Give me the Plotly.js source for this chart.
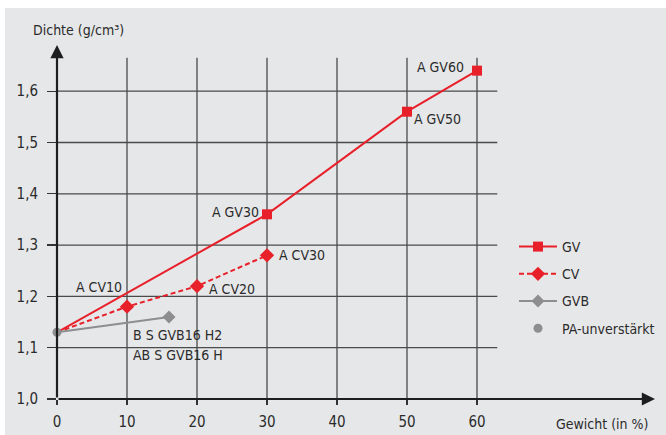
<!DOCTYPE html>
<html>
<head>
<meta charset="utf-8">
<script src="https://cdn.plot.ly/plotly-3.0.1.min.js"></script>
<style>html,body{margin:0;padding:0;background:#fff}#chart{width:666px;height:435px}</style>
</head>
<body>
<div id="chart"></div>
<script>
// ---- data ----
const gvX = [0, 30, 50, 60];
const gvY = [1.13, 1.36, 1.56, 1.64];
const cvX = [0, 10, 20, 30];
const cvY = [1.13, 1.18, 1.22, 1.28];
const gvbX = [0, 16];
const gvbY = [1.13, 1.16];
const paX = [0];
const paY = [1.13];
const seriesNames = ['GV', 'CV', 'GVB', 'PA-unverstärkt'];
const xTicks = [0, 10, 20, 30, 40, 50, 60];
const yTicks = [1.0, 1.1, 1.2, 1.3, 1.4, 1.5, 1.6];
const yTickText = ['1,0', '1,1', '1,2', '1,3', '1,4', '1,5', '1,6'];
const yTitle = 'Dichte (g/cm³)';
const xTitle = 'Gewicht (in %)';
// point labels: [text, x, y]
const labels = [
  ['A GV60', 60, 1.64],
  ['A GV50', 50, 1.56],
  ['A GV30', 30, 1.36],
  ['A CV30', 30, 1.28],
  ['A CV20', 20, 1.22],
  ['A CV10', 10, 1.18],
  ['B S GVB16 H2', 10, 1.16],
  ['AB S GVB16 H', 10, 1.16]
];

// ---- styling ----
const FONT = '"Liberation Sans Narrow", "DejaVu Sans Condensed", "Roboto", sans-serif';
const FS = 14;
const RED = '#e8202a';
const GRAY = '#8e8e90';
const TXT = '#2b2b2b';
const BG = '#e6e7e9';
const labelPos = [
  {xanchor: 'right', xshift: -11, yshift: 4},
  {xanchor: 'left', xshift: 5, yshift: -7},
  {xanchor: 'right', xshift: -6, yshift: 2},
  {xanchor: 'left', xshift: 10, yshift: 0},
  {xanchor: 'left', xshift: 10, yshift: -3},
  {xanchor: 'right', xshift: -3, yshift: 20},
  {xanchor: 'left', xshift: 4, yshift: -18},
  {xanchor: 'left', xshift: 4, yshift: -38}
];
// hide markers at the common origin (only the PA dot is shown there)
const sz = (xs, s) => xs.map(v => (v === 0 ? 0 : s));

const xMax = 85.43, yMax = 1.69;
const gridXEnd = 62.9, gridYEnd = 1.665;

const styles = [
  {line: {color: RED, width: 2}, sym: 'square', size: 10, color: RED, mode: 'lines+markers'},
  {line: {color: RED, width: 2, dash: '5px,3px'}, sym: 'diamond', size: 11, color: RED, mode: 'lines+markers'},
  {line: {color: GRAY, width: 2}, sym: 'diamond', size: 10, color: GRAY, mode: 'lines+markers'},
  {line: {color: GRAY, width: 2}, sym: 'circle', size: 9, color: GRAY, mode: 'markers'}
];
const series = [[gvX, gvY], [cvX, cvY], [gvbX, gvbY], [paX, paY]];

const traces = [];
series.forEach((s, i) => {
  const st = styles[i];
  const isPA = i === 3;
  traces.push({x: s[0], y: s[1], name: seriesNames[i], mode: st.mode, showlegend: false,
    line: st.line, cliponaxis: false,
    marker: {symbol: st.sym, size: isPA ? 9 : sz(s[0], st.size), color: st.color, opacity: 1,
      line: {width: 0}}});
});
// legend entries
series.forEach((s, i) => {
  const st = styles[i];
  traces.push({x: [null], y: [null], name: seriesNames[i], legendgroup: 'g' + i, mode: st.mode,
    showlegend: true, line: st.line, marker: {symbol: st.sym, size: st.size, color: st.color}});
});

const shapes = [];
// white strips at top / left edges
shapes.push({type: 'rect', xref: 'paper', yref: 'paper', x0: -0.2, x1: 1.2, y0: 1.1045, y1: 1.2,
  fillcolor: '#fff', line: {width: 0}, layer: 'below'});
shapes.push({type: 'rect', xref: 'paper', yref: 'paper', x0: -0.2, x1: -0.087, y0: -0.2, y1: 1.2,
  fillcolor: '#fff', line: {width: 0}, layer: 'below'});
// grid lines
xTicks.slice(1).forEach(v => shapes.push({type: 'line', xref: 'x', yref: 'y', x0: v, x1: v, y0: 1.0, y1: gridYEnd,
  line: {color: '#4a4a4a', width: 1.3}, layer: 'below'}));
yTicks.slice(1).forEach(v => shapes.push({type: 'line', xref: 'x', yref: 'y', x0: 0, x1: gridXEnd, y0: v, y1: v,
  line: {color: '#4a4a4a', width: 1.3}, layer: 'below'}));

const annotations = [];
// axes with arrows
annotations.push({x: 0, y: yMax, ax: 0, ay: 1.0, xref: 'x', yref: 'y', axref: 'x', ayref: 'y',
  text: '', showarrow: true, arrowhead: 2, arrowsize: 1.2, arrowwidth: 2.2, arrowcolor: '#1e1e1e', standoff: 0});
annotations.push({x: xMax, y: 1.0, ax: 0, ay: 1.0, xref: 'x', yref: 'y', axref: 'x', ayref: 'y',
  text: '', showarrow: true, arrowhead: 2, arrowsize: 1.2, arrowwidth: 2.2, arrowcolor: '#1e1e1e', standoff: 0});
// axis titles
annotations.push({text: yTitle, xref: 'paper', yref: 'paper', x: (78 - 57) / 598, y: (399 - 30) / 354,
  showarrow: false, xanchor: 'center', yanchor: 'middle', font: {family: FONT, size: FS, color: TXT}});
annotations.push({text: xTitle, xref: 'paper', yref: 'paper', x: (602 - 57) / 598, y: (399 - 424) / 354,
  showarrow: false, xanchor: 'center', yanchor: 'middle', font: {family: FONT, size: FS, color: TXT}});
// point labels
labels.forEach((l, i) => annotations.push({text: l[0], x: l[1], y: l[2], xref: 'x', yref: 'y',
  showarrow: false, xanchor: labelPos[i].xanchor, yanchor: 'middle',
  xshift: labelPos[i].xshift, yshift: labelPos[i].yshift,
  font: {family: FONT, size: FS, color: TXT}}));

const layout = {
  width: 666, height: 435,
  margin: {l: 57, r: 11, t: 45, b: 36, pad: 0, autoexpand: false},
  paper_bgcolor: BG, plot_bgcolor: 'rgba(0,0,0,0)',
  font: {family: FONT, size: FS, color: TXT},
  xaxis: {range: [0, xMax], tickvals: xTicks, ticks: 'outside', ticklen: 5, tickwidth: 1.3, tickcolor: '#333',
    showgrid: false, zeroline: false, showline: false, ticklabelstandoff: 4, automargin: false,
    tickfont: {family: FONT, size: 15, color: TXT}, fixedrange: true},
  yaxis: {range: [1.0, yMax], tickvals: yTicks, ticktext: yTickText, ticks: 'outside', ticklen: 9, tickwidth: 1.3,
    tickcolor: '#333', showgrid: false, zeroline: false, showline: false, ticklabelstandoff: 6, automargin: false,
    tickfont: {family: FONT, size: 15, color: TXT}, fixedrange: true},
  showlegend: true,
  legend: {x: (514 - 57) / 598, y: (399 - 231) / 354, xanchor: 'left', yanchor: 'top',
    bgcolor: 'rgba(0,0,0,0)', borderwidth: 0, traceorder: 'grouped', tracegroupgap: 6,
    font: {family: FONT, size: FS, color: TXT}, itemwidth: 38},
  shapes: shapes,
  annotations: annotations
};

Plotly.newPlot('chart', traces, layout, {displayModeBar: false, staticPlot: true});
</script>
</body>
</html>
